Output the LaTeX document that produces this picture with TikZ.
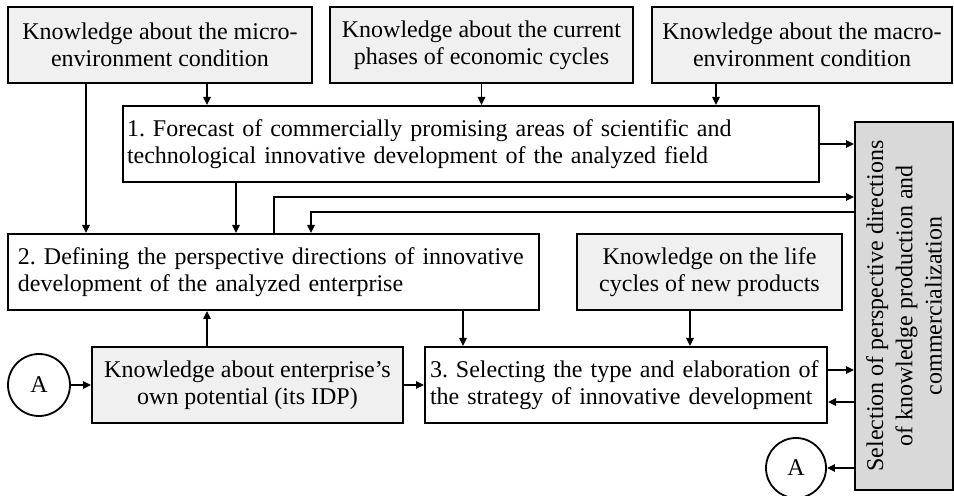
\documentclass[tikz,border=0pt]{standalone}
\usepackage{fontspec}
\setmainfont{Liberation Serif}
\usetikzlibrary{arrows.meta}

\begin{document}
\begin{tikzpicture}[
  x=0.5pt,y=-0.5pt,
  box/.style={draw=black,line width=1pt,minimum height=38pt,inner ysep=0pt,font=\fontsize{12}{13.4}\selectfont\frenchspacing},
  know/.style={box,fill=black!6,align=center},
  stage/.style={box,fill=white,align=left},
  arr/.style={draw=black,line width=0.9pt,-{Triangle[length=4pt,width=3.6pt]}},
  circ/.style={circle,draw=black,line width=0.9pt,inner sep=0pt,font=\fontsize{12}{13.4}\selectfont},
]
\useasboundingbox (0,0) rectangle (954,496);
% knowledge sources
\node[know,minimum width=152pt] (micro) at (160,45) {Knowledge about the micro-\\environment condition};
\node[know,minimum width=151.5pt] (cycles) at (481.5,45) {Knowledge about the current\\phases of economic cycles};
\node[know,minimum width=150pt] (macro) at (802,45) {Knowledge about the macro-\\environment condition};
\node[know,minimum width=132.5pt] (life) at (709.5,272) {Knowledge on the life\\cycles of new products};
\node[know,minimum width=155.5pt] (own) at (247.5,385) {Knowledge about enterprise's\\own potential (its IDP)};
% stages
\node[stage,text width=344pt,inner xsep=2pt] (fcst) at (471,144)
  {1. Forecast of commercially promising areas of scientific and\\technological innovative development of the analyzed field};
\node[stage,text width=255.5pt,inner xsep=5pt] (dfn) at (273.5,272)
  {2. Defining the perspective directions of innovative\\development of the analyzed enterprise};
\node[stage,text width=196pt,inner xsep=2.5pt] (strat) at (626,385)
  {3. Selecting the type and elaboration of\\the strategy of innovative development};
% result box, turned up: its north side is the left edge
\node[box,fill=black!15,rotate=90,minimum width=184pt,minimum height=49pt,align=center,
  font=\fontsize{12}{14.6}\selectfont] (sel) at (904,306)
  {Selection of perspective directions\\of knowledge production and\\commercialization};
\node[circ,minimum size=31pt] (ain) at (39,385) {A};
\node[circ,minimum size=30pt] (aout) at (796,468) {A};

% inputs to stage 1
\draw[arr] (micro.south -| 207,0) -- (fcst.north -| 207,0);
\draw[arr] (cycles.south) -- (cycles.south |- fcst.north);
\draw[arr] (macro.south -| 716,0) -- (fcst.north -| 716,0);
\draw[arr] (fcst.east) -- (fcst.east -| sel.north);
% inputs to stage 2
\draw[arr] (micro.south -| 86,0) -- (dfn.north -| 86,0);
\draw[arr] (fcst.south -| 236,0) -- (dfn.north -| 236,0);
\draw[arr] (own.north -| 207,0) -- (dfn.south -| 207,0);
\draw[arr] (dfn.north -| 274,0) |- (sel.north |- 0,197);
\draw[arr] (sel.north |- 0,212) -| (dfn.north -| 311,0);
% inputs to stage 3
\draw[arr] (dfn.south -| 463,0) -- (strat.north -| 463,0);
\draw[arr] (life.south -| 690,0) -- (strat.north -| 690,0);
\draw[arr] (ain) -- (own);
\draw[arr] (own) -- (strat);
\draw[arr] (strat.east |- 0,370) -- (sel.north |- 0,370);
\draw[arr] (sel.north |- 0,402) -- (strat.east |- 0,402);
\draw[arr] (sel.north |- aout) -- (aout);
\end{tikzpicture}
\end{document}
